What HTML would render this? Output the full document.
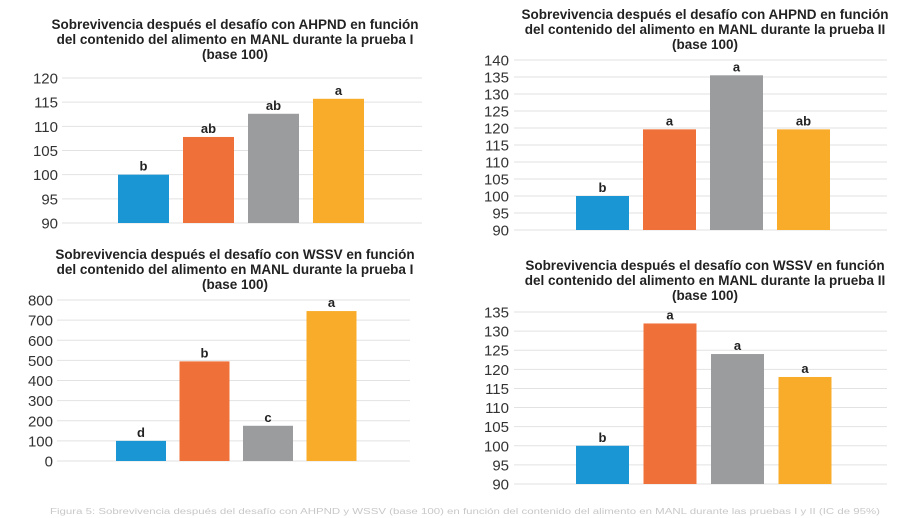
<!DOCTYPE html>
<html><head><meta charset="utf-8">
<style>
html,body{margin:0;padding:0;background:#fff;}
svg{display:block;font-family:"Liberation Sans",Arial,sans-serif;}
.t{font-weight:bold;font-size:13.5px;fill:#222;text-anchor:middle;}
.tk{font-size:15px;fill:#333;text-anchor:end;}
.lb{font-weight:bold;font-size:13px;fill:#222;text-anchor:middle;}
.g{stroke:#e2e2e2;stroke-width:1;}
</style></head>
<body>
<svg id="fig" width="914" height="518" viewBox="0 0 914 518" xmlns="http://www.w3.org/2000/svg">
<text x="50" y="514" font-size="8" fill="#c8c8c8" textLength="830" lengthAdjust="spacingAndGlyphs">Figura 5: Sobrevivencia después del desafío con AHPND y WSSV (base 100) en función del contenido del alimento en MANL durante las pruebas I y II (IC de 95%)</text>
</svg>
<script>
// Chart 1: AHPND prueba I
const c1Values = [100, 107.8, 112.6, 115.7];
const c1Letters = ["b", "ab", "ab", "a"];
const c1Ticks = [90, 95, 100, 105, 110, 115, 120];
// Chart 2: AHPND prueba II
const c2Values = [100, 119.6, 135.5, 119.6];
const c2Letters = ["b", "a", "a", "ab"];
const c2Ticks = [90, 95, 100, 105, 110, 115, 120, 125, 130, 135, 140];
// Chart 3: WSSV prueba I
const c3Values = [100, 495, 175, 745];
const c3Letters = ["d", "b", "c", "a"];
const c3Ticks = [0, 100, 200, 300, 400, 500, 600, 700, 800];
// Chart 4: WSSV prueba II
const c4Values = [100, 132, 124, 118];
const c4Letters = ["b", "a", "a", "a"];
const c4Ticks = [90, 95, 100, 105, 110, 115, 120, 125, 130, 135];
const c1Title = ["Sobrevivencia después el desafío con AHPND en función","del contenido del alimento en MANL durante la prueba I","(base 100)"];
const c2Title = ["Sobrevivencia después el desafío con AHPND en función","del contenido del alimento en MANL durante la prueba II","(base 100)"];
const c3Title = ["Sobrevivencia después el desafío con WSSV en función","del contenido del alimento en MANL durante la prueba I","(base 100)"];
const c4Title = ["Sobrevivencia después el desafío con WSSV en función","del contenido del alimento en MANL durante la prueba II","(base 100)"];
const colors = ["#1a96d4", "#f0703a", "#9a9c9e", "#f9ac2a"];

const NS = "http://www.w3.org/2000/svg";
const svg = document.getElementById("fig");
function mk(tag, attrs, parent) {
  const e = document.createElementNS(NS, tag);
  for (const k in attrs) e.setAttribute(k, attrs[k]);
  parent.appendChild(e);
  return e;
}
function chart(id, cfg, values, letters, ticks, title) {
  const g = mk("g", {}, svg);
  
  
  const min = ticks[0], max = ticks[ticks.length - 1];
  const y = v => cfg.y0 + (v - min) / (max - min) * (cfg.y1 - cfg.y0);
  const x = i => cfg.bx + i * cfg.pitch;
  title.forEach((line, i) => {
    const t = mk("text", {class: "t", x: cfg.tx, y: cfg.ty + i * 15}, g);
    
    
    t.textContent = line;
  });
  ticks.forEach(v => {
    const l = mk("line", {class: "g", x1: cfg.gx0, x2: cfg.gx1, y1: y(v), y2: y(v)}, g);
    
    
    const t = mk("text", {class: "tk", x: cfg.lx, y: y(v) + 5.5}, g);
    
    
    t.textContent = v;
  });
  values.forEach((v, i) => {
    const r = mk("rect", {x: x(i), y: y(v), width: cfg.bw, height: y(min) - y(v), fill: colors[i]}, g);
    
    
    const t = mk("text", {class: "lb", x: x(i) + cfg.bw / 2, y: y(v) - 4}, g);
    
    
    t.textContent = letters[i];
  });
}
chart("chart-ahpnd-prueba-1", {tx:235, ty:29, y0:223, y1:78, gx0:62, gx1:422, lx:58, bx:118, pitch:65, bw:51}, c1Values, c1Letters, c1Ticks, c1Title);
chart("chart-ahpnd-prueba-2", {tx:705, ty:19, y0:230, y1:60, gx0:514, gx1:887, lx:509, bx:576, pitch:67, bw:53}, c2Values, c2Letters, c2Ticks, c2Title);
chart("chart-wssv-prueba-1", {tx:235, ty:259, y0:461, y1:300, gx0:57, gx1:410, lx:53, bx:116, pitch:63.5, bw:50}, c3Values, c3Letters, c3Ticks, c3Title);
chart("chart-wssv-prueba-2", {tx:705, ty:270, y0:484, y1:312, gx0:514, gx1:887, lx:509, bx:576, pitch:67.5, bw:53}, c4Values, c4Letters, c4Ticks, c4Title);
</script>
</body></html>
